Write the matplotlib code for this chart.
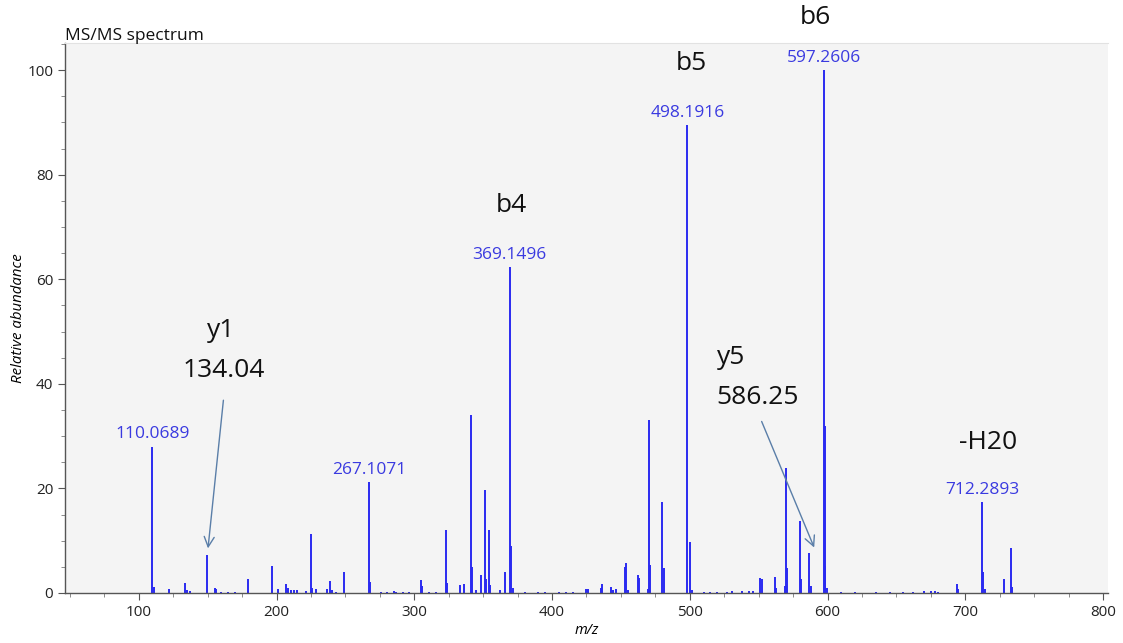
import numpy as np
import matplotlib.pyplot as plt
from matplotlib.ticker import MultipleLocator

plt.rcParams['font.family'] = ['Open Sans', 'DejaVu Sans']

# Peak list (m/z, relative abundance)
mz = [109.9, 110.9, 122.0, 133.6, 134.6, 137.5, 149.8, 155.2, 156.2, 160, 165, 170,
      179.1, 197.0, 201.1, 206.9, 208.0, 210.5, 212.5, 214.5, 221.0, 224.8, 225.9, 228.9,
      236.4, 239.0, 240.3, 243, 248.7, 267.1, 268.1, 276, 280, 285, 287, 292, 296,
      304.9, 305.9, 311, 316, 323.0, 324.0, 332.9, 335.8, 341.1, 342.1, 344.5, 348.4,
      351.0, 352.0, 354.2, 355.2, 362, 365.8, 369.2, 370.2, 371.3, 380, 390, 395, 405,
      410, 415, 424.5, 426, 435.5, 436.3, 442.5, 444, 446.6, 452.8, 453.7, 455, 462.2,
      463.2, 469.7, 470.4, 471.4, 480.0, 481.0, 498.2, 500.4, 501.5, 510, 515, 520, 527,
      531, 538, 543, 546, 551.3, 552.4, 561.7, 562.6, 569.3, 569.8, 570.8, 579.8, 580.8,
      586.9, 587.9, 597.3, 597.9, 598.5, 599.5, 610, 620, 635, 645, 655, 662, 670, 675,
      678, 680, 694.2, 695.0, 712.3, 713.0, 714.0, 727.8, 733.1, 734.0]
abundance = [28.0, 1.1, 0.8, 1.9, 0.5, 0.4, 7.2, 1.0, 0.8, 0.2, 0.2, 0.2,
             2.7, 5.1, 0.8, 1.7, 1.0, 0.5, 0.5, 0.5, 0.4, 11.3, 1.0, 0.8,
             0.8, 2.2, 0.6, 0.2, 4.0, 21.2, 2.1, 0.2, 0.2, 0.3, 0.2, 0.2, 0.2,
             2.4, 1.3, 0.2, 0.2, 12.0, 1.9, 1.5, 1.8, 34.0, 4.9, 0.5, 3.5,
             19.7, 2.7, 12.0, 1.6, 0.6, 4.0, 62.3, 8.9, 1.0, 0.2, 0.2, 0.2, 0.2,
             0.2, 0.2, 0.8, 0.8, 1.0, 1.7, 1.1, 0.6, 0.8, 5.0, 5.7, 0.6, 3.5,
             2.8, 0.8, 33.0, 5.4, 17.4, 4.7, 89.5, 9.7, 0.6, 0.2, 0.2, 0.2, 0.2,
             0.3, 0.4, 0.3, 0.4, 2.8, 2.6, 3.1, 1.0, 1.3, 23.9, 4.8, 13.7, 2.7,
             7.7, 1.4, 100.0, 32.0, 5.1, 1.0, 0.2, 0.2, 0.2, 0.2, 0.2, 0.2, 0.3, 0.3,
             0.4, 0.2, 1.8, 0.8, 17.4, 4.0, 0.7, 2.7, 8.6, 1.2]

# labelled peaks (label text, m/z, abundance)
peak_labels = ["110.0689", "267.1071", "369.1496", "498.1916", "597.2606", "712.2893"]
peak_label_mz = [109.9, 267.1, 369.2, 498.2, 597.3, 712.3]
peak_label_ab = [28.0, 21.2, 62.3, 89.5, 100.0, 17.4]

# ion annotations
ion_texts = ["b6", "b5", "b4", "y1", "134.04", "y5", "586.25", "-H20"]

fig = plt.figure(figsize=(11.23, 6.43), dpi=100)
ax = fig.add_axes([0.0579, 0.0778, 0.9287, 0.8553])
ax.set_facecolor('#f4f4f4')

ax.vlines(mz, 0, abundance, color='#2a2af0', lw=1.4)

for txt, x, y in zip(peak_labels, peak_label_mz, peak_label_ab):
    ax.annotate(txt, (x, y), xytext=(0, 3), textcoords='offset points',
                ha='center', va='bottom', color='#3a3ae0', fontsize=12.5)

# b / y ion text
big = dict(fontsize=19, color='#111111', ha='center', va='center', clip_on=False)
ax.text(591.3, 110.0, ion_texts[0], **big)
ax.text(501.4, 101.3, ion_texts[1], **big)
ax.text(370.3, 74.1, ion_texts[2], **big)
ax.text(160.1, 50.2, ion_texts[3], **big)
ax.text(161.6, 42.5, ion_texts[4], **big)
ax.text(519.6, 45.0, ion_texts[5], fontsize=19, color='#111111', ha='left', va='center')
ax.text(519.6, 37.4, ion_texts[6], fontsize=19, color='#111111', ha='left', va='center')
ax.text(716.7, 28.7, ion_texts[7], **big)

arrow = dict(arrowstyle='->', color='#5a7ea8', lw=1.0, mutation_scale=18)
ax.annotate('', xy=(150.0, 8.0), xytext=(161.6, 37.4), arrowprops=arrow)
ax.annotate('', xy=(591.1, 8.2), xytext=(551.4, 33.3), arrowprops=arrow)

ax.set_xlim(46.4, 803.6)
ax.set_ylim(0, 105.2)
ax.xaxis.set_major_locator(MultipleLocator(100))
ax.xaxis.set_minor_locator(MultipleLocator(25))
ax.yaxis.set_major_locator(MultipleLocator(20))
ax.yaxis.set_minor_locator(MultipleLocator(5))
ax.tick_params(which='major', length=5, color='#555555', labelsize=11, labelcolor='#222222')
ax.tick_params(which='minor', length=3, color='#777777')

for side in ['left', 'bottom']:
    ax.spines[side].set_color('#555555')
    ax.spines[side].set_linewidth(1.0)
ax.spines['top'].set_color('#e2e2e2')
ax.spines['right'].set_visible(False)

ax.set_xlabel('m/z', style='italic', fontsize=10.5, labelpad=2)
ax.set_ylabel('Relative abundance', style='italic', fontsize=10.8, labelpad=1)
ax.text(0.0, 0.999, 'MS/MS spectrum', transform=ax.transAxes, fontsize=12.5,
        ha='left', va='bottom', color='#111111')

fig.savefig('out.png', dpi=100, facecolor='white')
